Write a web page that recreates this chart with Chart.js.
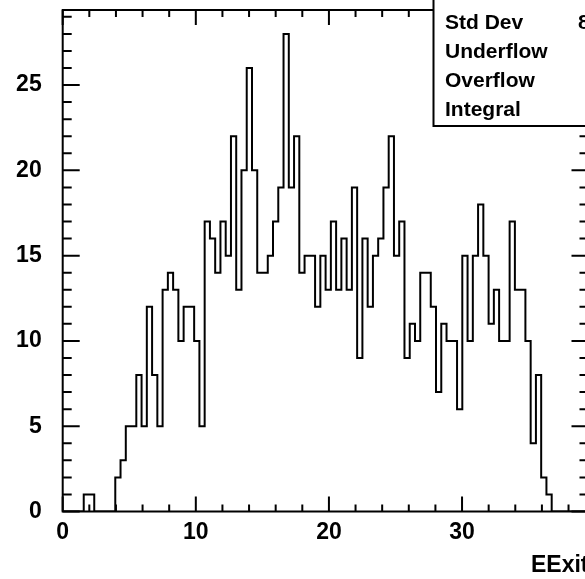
<!DOCTYPE html>
<html>
<head>
<meta charset="utf-8">
<script src="https://cdn.jsdelivr.net/npm/chart.js@4.4.1/dist/chart.umd.min.js"></script>
<style>
html, body { margin: 0; padding: 0; overflow: hidden; background: #fff; width: 585px; height: 579px; }
canvas { display: block; }
</style>
</head>
<body>
<canvas id="histChart" width="620" height="579"></canvas>
<script>
// histogram: 100 bins between 0 and 39.5
var xMin = 0;
var xMax = 39.5;
var counts = [
	0, 0, 0, 0, 1, 1, 0, 0, 0, 0,
	2, 3, 5, 5, 8, 5, 12, 8, 5, 13,
	14, 13, 10, 12, 12, 10, 5, 17, 16, 14,
	17, 15, 22, 13, 20, 26, 20, 14, 14, 15,
	17, 19, 28, 19, 22, 14, 15, 15, 12, 15,
	13, 17, 13, 16, 13, 19, 9, 16, 12, 15,
	16, 19, 22, 15, 17, 9, 11, 10, 14, 14,
	12, 7, 11, 10, 10, 6, 15, 10, 15, 18,
	15, 11, 13, 10, 10, 17, 13, 13, 10, 4,
	8, 2, 1, 0, 0, 0, 0, 0, 0, 0
];
var xTickLabels = [0, 10, 20, 30];
var yTickLabels = [0, 5, 10, 15, 20, 25];
var statNames = ['Std Dev', 'Underflow', 'Overflow', 'Integral'];
var axisTitle = 'EExit';

var binWidth = (xMax - xMin) / counts.length;
var points = counts.map(function (c, i) {
	return { x: xMin + i * binWidth, y: c };
});
points.push({ x: xMax, y: 0 });

// std dev from bin centres
var sum = 0, sumX = 0, sumX2 = 0;
counts.forEach(function (c, i) {
	var xc = xMin + (i + 0.5) * binWidth;
	sum += c; sumX += c * xc; sumX2 += c * xc * xc;
});
var mean = sumX / sum;
var stdDev = Math.sqrt(sumX2 / sum - mean * mean);

var yMax = Math.max.apply(null, counts) * 1.05;
var fontFamily = '"Liberation Sans", Arial, sans-serif';

var rootFrame = {
	id: 'rootFrame',
	afterDatasetsDraw: function (chart) {
		var ctx = chart.ctx;
		var xs = chart.scales.x, ys = chart.scales.y;
		var a = chart.chartArea;
		ctx.save();
		ctx.strokeStyle = '#000';
		ctx.lineWidth = 2;
		ctx.strokeRect(a.left, a.top, a.right - a.left, a.bottom - a.top);

		ctx.beginPath();
		for (var v = 0; v <= yMax; v++) {
			var py = ys.getPixelForValue(v);
			var len = (v % 5 === 0) ? 17 : 9;
			ctx.moveTo(a.left, py); ctx.lineTo(a.left + len, py);
			ctx.moveTo(a.right, py); ctx.lineTo(a.right - len, py);
		}
		for (var t = 0; t <= xMax; t += 2) {
			var px = xs.getPixelForValue(t);
			var l = (t % 10 === 0) ? 15 : 7;
			ctx.moveTo(px, a.bottom); ctx.lineTo(px, a.bottom - l);
			ctx.moveTo(px, a.top); ctx.lineTo(px, a.top + l);
		}
		ctx.stroke();

		// stats box (mostly outside the visible window)
		ctx.fillStyle = '#fff';
		ctx.fillRect(433, -10, 260, 136);
		ctx.strokeRect(433.5, -10, 260, 136);
		ctx.fillStyle = '#000';
		ctx.font = 'bold 21px ' + fontFamily;
		ctx.textBaseline = 'alphabetic';
		ctx.textAlign = 'left';
		statNames.forEach(function (name, i) {
			ctx.fillText(name, 445, 28.5 + i * 29);
		});
		ctx.fillText(stdDev.toFixed(3), 578, 28.5);
		ctx.restore();
	}
};

var ctx = document.getElementById('histChart').getContext('2d');
var histChart = new Chart(ctx, {
	type: 'line',
	data: {
		datasets: [{
			data: points,
			borderColor: '#000',
			borderWidth: 2,
			pointRadius: 0,
			fill: false,
			stepped: true,
			tension: 0
		}]
	},
	options: {
		responsive: false,
		animation: false,
		events: [],
		layout: { padding: { left: 0, top: 10, right: 31.5, bottom: 0 } },
		plugins: { legend: { display: false }, tooltip: { enabled: false } },
		scales: {
			x: {
				type: 'linear',
				min: xMin,
				max: xMax,
				grid: { display: false, drawTicks: false },
				border: { display: false },
				afterBuildTicks: function (scale) {
					scale.ticks = xTickLabels.map(function (v) { return { value: v }; });
				},
				afterFit: function (scale) {
					scale.height = 67.5;
					scale.paddingLeft = 0; scale.paddingRight = 0;
				},
				ticks: {
					color: '#000',
					font: { family: fontFamily, size: 23, weight: 'bold' },
					padding: 7.5,
					maxRotation: 0,
					autoSkip: false
				},
				title: {
					display: true,
					text: axisTitle,
					align: 'end',
					color: '#000',
					font: { family: fontFamily, size: 23, weight: 'bold' },
					padding: { top: 0, bottom: 0 }
				}
			},
			y: {
				min: 0,
				max: yMax,
				grid: { display: false, drawTicks: false },
				border: { display: false },
				afterBuildTicks: function (scale) {
					scale.ticks = yTickLabels.map(function (v) { return { value: v }; });
				},
				afterFit: function (scale) {
					scale.width = 62.7;
					scale.paddingTop = 0; scale.paddingBottom = 0;
				},
				ticks: {
					color: '#000',
					font: { family: fontFamily, size: 23, weight: 'bold' },
					padding: 21
				}
			}
		}
	},
	plugins: [rootFrame]
});
</script>
</body>
</html>
